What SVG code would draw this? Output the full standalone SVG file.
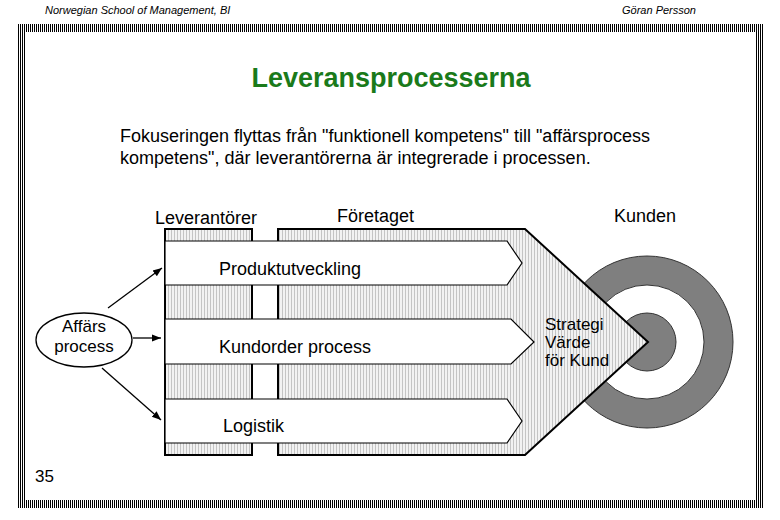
<svg xmlns="http://www.w3.org/2000/svg" width="780" height="520" viewBox="0 0 780 520">
<defs>
<pattern id="hatch" width="3" height="4" patternUnits="userSpaceOnUse"><rect width="3" height="4" fill="#f2f2f2"/><rect width="1" height="4" fill="#c4c4c4"/></pattern>
<pattern id="frame" width="2" height="2" patternUnits="userSpaceOnUse"><rect width="2" height="2" fill="#fff"/><rect width="1" height="2" fill="#000"/></pattern>
<marker id="ah" viewBox="0 0 10 10" refX="10" refY="5" markerWidth="7" markerHeight="7" orient="auto"><path d="M0,1 L10,5 L0,9 z" fill="#000"/></marker>
</defs>
<style>
text{font-family:"Liberation Sans",Arial,sans-serif;fill:#000}
.lbl{font-size:18px}
.sm{font-size:17px}
.band{fill:#fff;stroke:#000;stroke-width:1.2}
.conn{stroke:#000;stroke-width:1.3;fill:none;marker-end:url(#ah)}
</style>
<rect width="780" height="520" fill="#fff"/>
<text x="45" y="14" font-size="11" font-style="italic">Norwegian School of Management, BI</text>
<text x="622" y="14" font-size="11" font-style="italic">Göran Persson</text>
<g id="frame-border">
<rect x="17" y="24" width="746" height="8" fill="url(#frame)"/>
<rect x="17" y="500" width="746" height="8" fill="url(#frame)"/>
<rect x="17" y="24" width="8" height="484" fill="url(#frame)"/>
<rect x="755" y="24" width="8" height="484" fill="url(#frame)"/>
</g>
<text x="391" y="87" font-size="27" font-weight="bold" text-anchor="middle" style="fill:#1a7a1a">Leveransprocesserna</text>
<text x="120" y="142" font-size="18">Fokuseringen flyttas från "funktionell kompetens" till "affärsprocess</text>
<text x="120" y="164" font-size="18">kompetens", där leverantörerna är integrerade i processen.</text>
<text x="155" y="224" class="lbl">Leverantörer</text>
<text x="337" y="222" class="lbl">Företaget</text>
<text x="614" y="222" class="lbl">Kunden</text>
<g id="target">
<circle cx="647" cy="342" r="86" fill="#7f7f7f" stroke="#333" stroke-width="1"/>
<circle cx="647" cy="342" r="57" fill="#fff" stroke="#333" stroke-width="1"/>
<circle cx="647" cy="342" r="29" fill="#7f7f7f" stroke="#333" stroke-width="1"/>
</g>
<g id="foretaget">
<path d="M278,229 L525,229 L648,342 L525,455 L278,455 Z" fill="url(#hatch)" stroke="#000" stroke-width="2"/>
<text x="545" y="330" class="sm">Strategi</text>
<text x="545" y="348" class="sm">Värde</text>
<text x="545" y="366" class="sm">för Kund</text>
</g>
<g id="leverantorer">
<rect x="165" y="229" width="87" height="226" fill="url(#hatch)" stroke="#000" stroke-width="2"/>
</g>
<g id="produktutveckling">
<path class="band" d="M165,241 L507,241 L522,263 L507,285 L165,285 Z"/>
<text x="219" y="275" class="lbl">Produktutveckling</text>
</g>
<g id="kundorder">
<path class="band" d="M165,319 L511,319 L534,342 L511,364 L165,364 Z"/>
<text x="219" y="353" class="lbl">Kundorder process</text>
</g>
<g id="logistik">
<path class="band" d="M165,399 L507,399 L522,421 L507,443 L165,443 Z"/>
<text x="223" y="432" class="lbl">Logistik</text>
</g>
<g id="affarsprocess">
<ellipse cx="84" cy="340" rx="48" ry="27" fill="#fff" stroke="#000" stroke-width="1.3"/>
<text x="84" y="332" class="sm" text-anchor="middle">Affärs</text>
<text x="84" y="352" class="sm" text-anchor="middle">process</text>
</g>
<g id="connectors">
<line class="conn" x1="108" y1="308" x2="162" y2="268"/>
<line class="conn" x1="133" y1="338" x2="161" y2="338"/>
<line class="conn" x1="102" y1="368" x2="161" y2="420"/>
</g>
<text x="35" y="482" font-size="17">35</text>
</svg>
